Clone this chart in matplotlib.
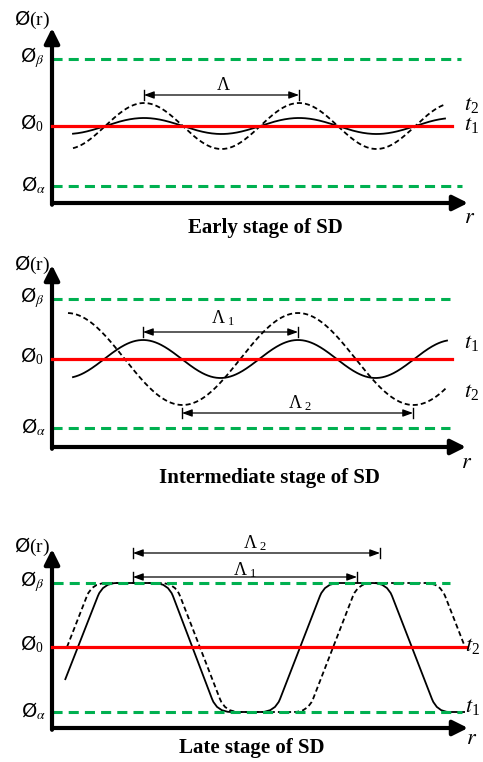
import matplotlib.pyplot as plt
import numpy as np
from matplotlib.path import Path
from matplotlib.patches import PathPatch

plt.rcParams['mathtext.fontset'] = 'custom'
plt.rcParams['mathtext.rm'] = 'Liberation Serif'
plt.rcParams['mathtext.it'] = 'STIXGeneral:italic'
plt.rcParams['mathtext.sf'] = 'DejaVu Sans'

GREEN = '#00b050'
RED = '#ff0000'

# --- early stage: small sinusoidal fluctuations, same wavelength ---
early_levels = [144, 77, 17]          # phi_beta, phi_0, phi_alpha
early_r_range = [21, 393]
early_wavelength = 155
early_peak = 92
early_amp_t1 = 8
early_amp_t2 = 23
early_bracket = [92, 247, 108]        # r start, r end, phi

# --- intermediate stage: growing amplitude, coarsening wavelength ---
mid_levels = [148, 88, 19]
mid_r_range_t1 = [21, 395]
mid_r_range_t2 = [16, 395]
mid_wavelength_t1 = 155
mid_wavelength_t2 = 231
mid_peak_t1 = 91
mid_peak_t2 = 246
mid_amp_t1 = 19
mid_amp_t2 = 46
mid_bracket_1 = [91, 246, 115]
mid_bracket_2 = [130, 361, 34]

# --- late stage: saturated profiles between phi_alpha and phi_beta ---
late_levels = [145, 81, 16]
late_t1_r = [13, 51, 116, 165, 223, 273, 335, 385, 413]
late_t1_phi = [48, 145, 145, 16, 16, 145, 145, 16, 16]
late_t2_r = [15, 40, 123, 173, 256, 306, 388, 413]
late_t2_phi = [81, 145, 145, 16, 16, 145, 145, 81]
late_bracket_2 = [81, 328, 175]
late_bracket_1 = [81, 305, 151]


def rounded_path(rs, phis, radius=14):
    pts = np.column_stack([rs, phis]).astype(float)
    verts = [pts[0]]
    codes = [Path.MOVETO]
    for i in range(1, len(pts) - 1):
        p, c, n = pts[i - 1], pts[i], pts[i + 1]
        d_in = c - p
        d_out = n - c
        l_in = np.hypot(*d_in)
        l_out = np.hypot(*d_out)
        a = c - d_in / l_in * min(radius, 0.45 * l_in)
        b = c + d_out / l_out * min(radius, 0.45 * l_out)
        verts += [a, c, b]
        codes += [Path.LINETO, Path.CURVE3, Path.CURVE3]
    verts.append(pts[-1])
    codes.append(Path.LINETO)
    return Path(verts, codes)


def make_panel(fig, left, bottom, right, top):
    W, H = 483.0, 762.0
    ax = fig.add_axes([left / W, 1 - bottom / H, (right - left) / W, (bottom - top) / H])
    ax.set_xlim(0, right - left)
    ax.set_ylim(0, bottom - top)
    ax.axis('off')
    arrow = dict(arrowstyle='-|>,head_length=0.9,head_width=0.45', lw=3,
                 color='black', shrinkA=0, shrinkB=0)
    ax.annotate('', xy=(0, 1), xytext=(0, -0.01), xycoords='axes fraction',
                arrowprops=arrow, annotation_clip=False)
    ax.annotate('', xy=(1, 0), xytext=(0, 0), xycoords='axes fraction',
                arrowprops=arrow, annotation_clip=False)
    return ax


def draw_levels(ax, levels, beta_end, zero_end, alpha_end, beta_start=0):
    b, z, a = levels
    ax.plot([beta_start, beta_end], [b, b], color=GREEN, lw=2.2, dashes=(3.3, 2), clip_on=False)
    ax.plot([0, alpha_end], [a, a], color=GREEN, lw=2.2, dashes=(3.3, 2), clip_on=False)
    ax.plot([0, zero_end], [z, z], color=RED, lw=2.3, clip_on=False, zorder=3)
    kw = dict(ha='right', va='center', fontsize=14, clip_on=False)
    ax.text(-7, b + 1, r'$\mathsf{Ø}_{\beta}$', **kw)
    ax.text(-8, z + 3, r'$\mathsf{Ø}_{0}$', **kw)
    ax.text(-6, a + 1, r'$\mathsf{Ø}_{\alpha}$', **kw)


def draw_bracket(ax, bracket, label, label_r, label_phi):
    r1, r2, y = bracket
    ax.annotate('', xy=(r2, y), xytext=(r1, y),
                arrowprops=dict(arrowstyle='<|-|>,head_length=0.6,head_width=0.22',
                                lw=0.9, color='black', shrinkA=0, shrinkB=0),
                annotation_clip=False)
    for r in (r1, r2):
        ax.plot([r, r], [y - 5, y + 5], color='black', lw=1.0, clip_on=False)
    ax.text(label_r, label_phi, label, ha='center', va='center', fontsize=13, clip_on=False)


def common_labels(ax, ylab_phi, r_pos, title, title_pos):
    ax.text(-2, ylab_phi, r'$\mathsf{Ø}\mathrm{(r)}$', ha='right', va='center',
            fontsize=14, clip_on=False)
    ax.text(r_pos[0], r_pos[1], r'$r$', ha='center', va='center', fontsize=16, clip_on=False)
    ax.text(title_pos[0], title_pos[1], title, ha='center', va='center', fontsize=15,
            family='Liberation Serif', weight='bold', clip_on=False)


def t_label(ax, r, phi, label):
    ax.text(r, phi, label, ha='left', va='center', fontsize=16, clip_on=False)


fig = plt.figure(figsize=(4.83, 7.62), dpi=100)
fig.patch.set_facecolor('white')

# early stage
ax1 = make_panel(fig, 52, 203, 468, 28)
draw_levels(ax1, early_levels, 409, 400, 410)
r = np.linspace(*early_r_range, 400)
z0 = early_levels[1]
wave = np.cos(2 * np.pi * (r - early_peak) / early_wavelength)
ax1.plot(r, z0 + early_amp_t1 * wave, color='black', lw=1.3, clip_on=False)
ax1.plot(r, z0 + early_amp_t2 * wave, color='black', lw=1.3, dashes=(2.8, 1.7), clip_on=False)
draw_bracket(ax1, early_bracket, r'$\Lambda$', 171, 118)
t_label(ax1, 412, 98, r'$t_2$')
t_label(ax1, 412, 78, r'$t_1$')
common_labels(ax1, 183, (418, -14), 'Early stage of SD', (213, -25))

# intermediate stage
ax2 = make_panel(fig, 52, 447, 466, 265)
draw_levels(ax2, mid_levels, 398, 400, 398)
z0 = mid_levels[1]
r1 = np.linspace(*mid_r_range_t1, 400)
r2 = np.linspace(*mid_r_range_t2, 400)
ax2.plot(r1, z0 + mid_amp_t1 * np.cos(2 * np.pi * (r1 - mid_peak_t1) / mid_wavelength_t1),
         color='black', lw=1.3, clip_on=False)
ax2.plot(r2, z0 + mid_amp_t2 * np.cos(2 * np.pi * (r2 - mid_peak_t2) / mid_wavelength_t2),
         color='black', lw=1.3, dashes=(2.8, 1.7), clip_on=False)
draw_bracket(ax2, mid_bracket_1, r'$\Lambda_{\ 1}$', 171, 129)
draw_bracket(ax2, mid_bracket_2, r'$\Lambda_{\ 2}$', 248, 44)
t_label(ax2, 412, 104, r'$t_1$')
t_label(ax2, 412, 55, r'$t_2$')
common_labels(ax2, 182, (415, -15), 'Intermediate stage of SD', (217, -31))

# late stage
ax3 = make_panel(fig, 52, 728, 468, 549)
draw_levels(ax3, late_levels, 398, 415, 410, beta_start=1)
ax3.add_patch(PathPatch(rounded_path(late_t1_r, late_t1_phi), fill=False,
                        edgecolor='black', lw=1.3, clip_on=False))
ax3.add_patch(PathPatch(rounded_path(late_t2_r, late_t2_phi), fill=False,
                        edgecolor='black', lw=1.3, linestyle=(0, (2.8, 1.7)), clip_on=False))
draw_bracket(ax3, late_bracket_2, r'$\Lambda_{\ 2}$', 203, 185)
draw_bracket(ax3, late_bracket_1, r'$\Lambda_{\ 1}$', 193, 158)
t_label(ax3, 413, 82, r'$t_2$')
t_label(ax3, 413, 21, r'$t_1$')
common_labels(ax3, 181, (420, -10), 'Late stage of SD', (200, -20))

fig.savefig('out.png', dpi=100)
